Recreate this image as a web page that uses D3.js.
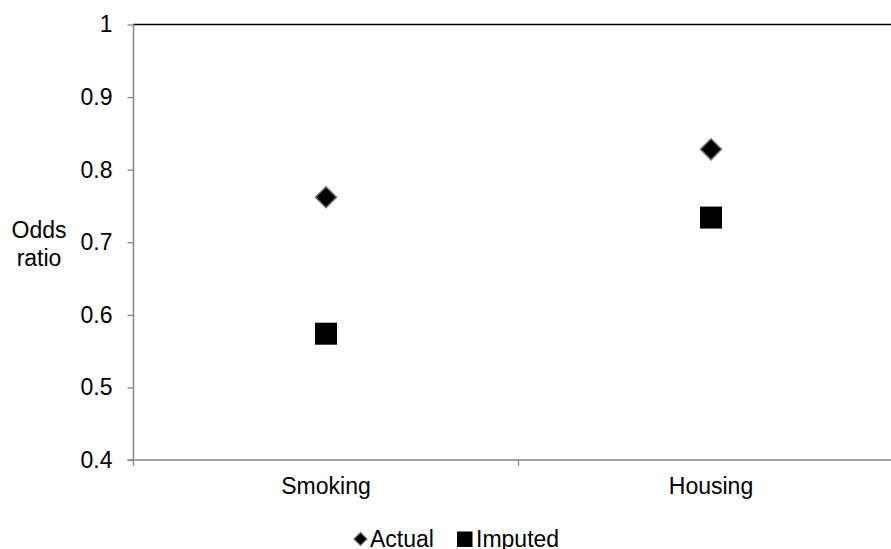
<!DOCTYPE html>
<html>
<head>
<meta charset="utf-8">
<script src="https://cdn.jsdelivr.net/npm/d3@7"></script>
<style>
  html, body { margin: 0; padding: 0; background: #fff; overflow: hidden; }
  svg { display: block; font-family: "Liberation Sans", Arial, sans-serif; }
</style>
</head>
<body>
<svg id="chart" width="891" height="549"></svg>
<script>
const categories = ["Smoking", "Housing"];
const actualValues = [0.762, 0.828];
const imputedValues = [0.574, 0.734];
const yTicks = [0.4, 0.5, 0.6, 0.7, 0.8, 0.9, 1];
const seriesNames = ["Actual", "Imputed"];

(function () {
const svg = d3.select("#chart");
const fontSize = 23;
const pLeft = 133.5, pRight = 903.5, pTop = 24.5, pBottom = 460;

const x = d3.scaleBand().domain(categories).range([pLeft, pRight]).padding(0);
const y = d3.scaleLinear().domain([0.4, 1]).range([pBottom, pTop]);

// top border
svg.append("line")
  .attr("x1", pLeft).attr("x2", pRight)
  .attr("y1", pTop).attr("y2", pTop)
  .attr("stroke", "#000").attr("stroke-width", 1.3);

// y axis
const yAxis = svg.append("g")
  .attr("transform", `translate(${pLeft},0)`)
  .call(d3.axisLeft(y).tickValues(yTicks).tickSize(6).tickPadding(15)
    .tickFormat(d => d === 1 ? "1" : d3.format(".1f")(d)));
yAxis.select(".domain").attr("stroke", "#868686").attr("stroke-width", 1.5)
  .attr("d", `M0,${pTop}V${pBottom}`);
yAxis.selectAll(".tick line").attr("stroke", "#868686").attr("stroke-width", 1.3);
yAxis.selectAll(".tick text").attr("fill", "#000").style("font-size", fontSize + "px")
  .style("font-family", '"Liberation Sans", Arial, sans-serif');

// x axis line with boundary ticks
svg.append("line")
  .attr("x1", pLeft - 6).attr("x2", pRight)
  .attr("y1", pBottom).attr("y2", pBottom)
  .attr("stroke", "#868686").attr("stroke-width", 1.5);
const boundaries = [x.range()[0]].concat(categories.map(c => x(c) + x.bandwidth()));
svg.selectAll(".xb").data(boundaries).enter().append("line")
  .attr("x1", d => d).attr("x2", d => d)
  .attr("y1", pBottom).attr("y2", pBottom + 6)
  .attr("stroke", "#868686").attr("stroke-width", 1.3);

// x labels
const xAxis = svg.append("g")
  .attr("transform", `translate(0,${pBottom})`)
  .call(d3.axisBottom(x).tickSize(0).tickPadding(18));
xAxis.select(".domain").remove();
xAxis.selectAll(".tick text").attr("fill", "#000").style("font-size", fontSize + "px")
  .style("font-family", '"Liberation Sans", Arial, sans-serif');

// y axis title
const yt = svg.append("text")
  .attr("x", 39).attr("text-anchor", "middle")
  .style("font-size", fontSize + "px").attr("fill", "#000");
yt.append("tspan").attr("x", 39).attr("y", 238).text("Odds");
yt.append("tspan").attr("x", 39).attr("y", 266).text("ratio");

// markers
const diamond = s => `M0,${-s}L${s},0L0,${s}L${-s},0Z`;
const cx = c => x(c) + x.bandwidth() / 2;

svg.selectAll(".actual").data(categories).enter().append("path")
  .attr("transform", (c, i) => `translate(${cx(c)},${y(actualValues[i])})`)
  .attr("d", diamond(10.5))
  .attr("fill", "#000").attr("stroke", "#6f6f6f").attr("stroke-width", 1.5);

const sq = 22;
svg.selectAll(".imputed").data(categories).enter().append("rect")
  .attr("x", c => cx(c) - sq / 2)
  .attr("y", (c, i) => y(imputedValues[i]) - sq / 2)
  .attr("width", sq).attr("height", sq)
  .attr("fill", "#000");

// legend
const legY = 539;
svg.append("path")
  .attr("transform", `translate(360.5,${legY})`)
  .attr("d", diamond(6.5))
  .attr("fill", "#000").attr("stroke", "#6f6f6f").attr("stroke-width", 1.2);
svg.append("text").attr("x", 370).attr("y", legY).attr("dy", "0.35em")
  .style("font-size", fontSize + "px").attr("fill", "#000").text(seriesNames[0]);
svg.append("rect").attr("x", 457).attr("y", legY - 7.5).attr("width", 15.5).attr("height", 15.5)
  .attr("fill", "#000");
svg.append("text").attr("x", 476).attr("y", legY).attr("dy", "0.35em")
  .style("font-size", fontSize + "px").attr("fill", "#000").text(seriesNames[1]);
})();
</script>
</body>
</html>
